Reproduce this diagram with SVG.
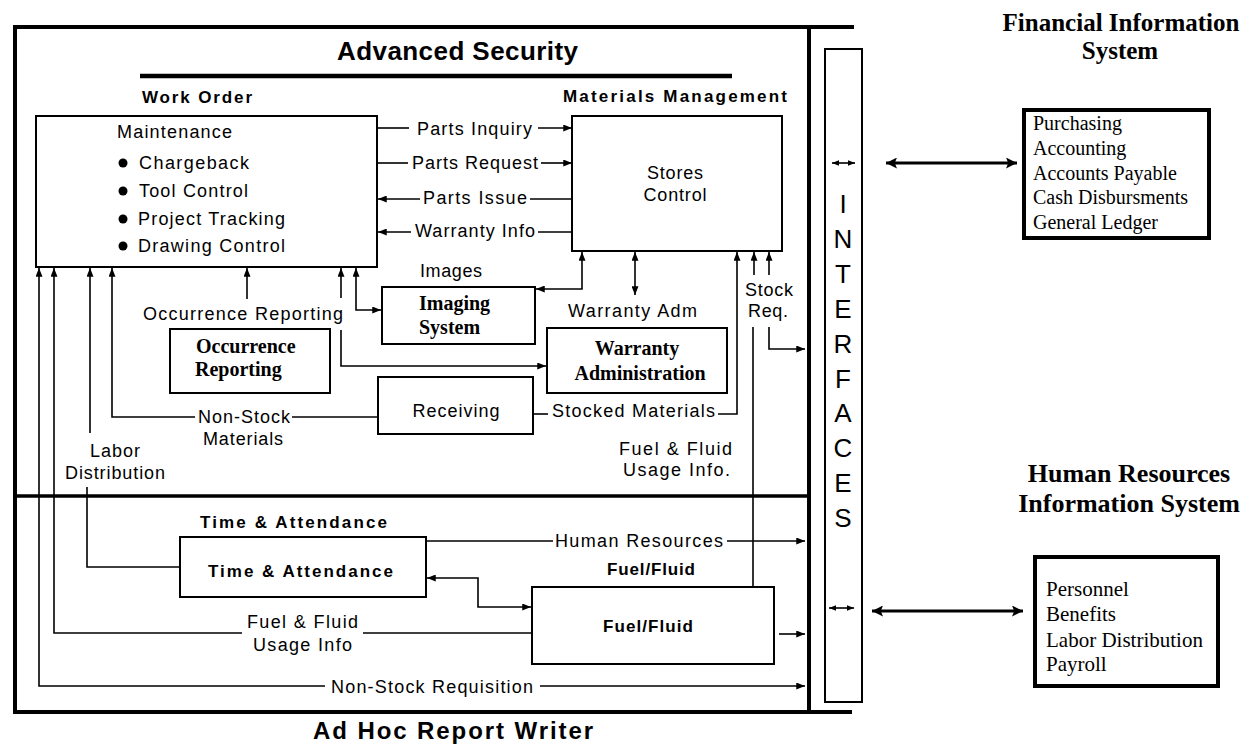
<svg xmlns="http://www.w3.org/2000/svg" width="1256" height="752" viewBox="0 0 1256 752">
<style>
.bg{fill:#fff}
.box{fill:none;stroke:#000;stroke-width:2}
.thick{fill:none;stroke:#000;stroke-width:4}
.frame{fill:none;stroke:#000;stroke-width:4;stroke-linecap:square}
.c{fill:none;stroke:#000;stroke-width:1.6}
.cb{fill:none;stroke:#000;stroke-width:3.2}
.s{font-family:"Liberation Sans",Arial,sans-serif;font-size:18px;fill:#000}
.b{font-family:"Liberation Sans",Arial,sans-serif;font-size:17px;font-weight:bold;fill:#000}
.tb{font-family:"Liberation Serif","Times New Roman",serif;font-size:20px;font-weight:bold;fill:#000}
.tr{font-family:"Liberation Serif","Times New Roman",serif;font-size:20px;fill:#000}
.title{font-family:"Liberation Serif","Times New Roman",serif;font-size:25px;font-weight:bold;fill:#000}
.ifc{font-family:"Liberation Sans",Arial,sans-serif;font-size:26px;fill:#000}
</style>
<defs>
<marker id="a" viewBox="0 0 10 8" refX="10" refY="4" markerWidth="9" markerHeight="7" markerUnits="userSpaceOnUse" orient="auto-start-reverse"><path d="M0,0 L10,4 L0,8 z" fill="#000"/></marker>
<marker id="sm" viewBox="0 0 10 8" refX="10" refY="4" markerWidth="7" markerHeight="6" markerUnits="userSpaceOnUse" orient="auto-start-reverse"><path d="M0,0 L10,4 L0,8 z" fill="#000"/></marker>
<marker id="big" viewBox="0 0 10 10" refX="10" refY="5" markerWidth="12" markerHeight="11" markerUnits="userSpaceOnUse" orient="auto-start-reverse"><path d="M0,0 L10,5 L0,10 L2,5 z" fill="#000"/></marker>
</defs>
<rect class="bg" x="0" y="0" width="1256" height="752"/>

<g id="frame">
<path class="frame" d="M15,712 L15,27 L852,27"/>
<path class="frame" d="M809,27 L809,712"/>
<path class="frame" d="M15,712 L850,712"/>
<line x1="15" y1="496" x2="809" y2="496" stroke="#000" stroke-width="3.5"/>
<text x="337" y="60" style="font-family:'Liberation Sans',Arial,sans-serif;font-size:26px;font-weight:bold" textLength="241" lengthAdjust="spacing">Advanced Security</text>
<line x1="140" y1="76" x2="732" y2="76" stroke="#000" stroke-width="4.5"/>
<text x="313" y="739" style="font-family:'Liberation Sans',Arial,sans-serif;font-size:24px;font-weight:bold" textLength="280" lengthAdjust="spacing">Ad Hoc Report Writer</text>
</g>

<g id="maintenance">
<text class="b" x="142" y="103" textLength="110" lengthAdjust="spacing">Work Order</text>
<rect class="box" x="36" y="116" width="341" height="151"/>
<text class="s" x="117" y="138" textLength="115" lengthAdjust="spacing">Maintenance</text>
<circle cx="123" cy="163" r="4.5"/><circle cx="123" cy="191" r="4.5"/><circle cx="123" cy="219" r="4.5"/><circle cx="123" cy="246" r="4.5"/>
<text class="s" x="139" y="169" textLength="110" lengthAdjust="spacing">Chargeback</text>
<text class="s" x="139" y="197" textLength="109" lengthAdjust="spacing">Tool Control</text>
<text class="s" x="138" y="225" textLength="147" lengthAdjust="spacing">Project Tracking</text>
<text class="s" x="138" y="252" textLength="147" lengthAdjust="spacing">Drawing Control</text>
</g>

<g id="stores">
<text class="b" x="563" y="102" textLength="224" lengthAdjust="spacing">Materials Management</text>
<rect class="box" x="572" y="116" width="210" height="135"/>
<text class="s" x="675" y="179" text-anchor="middle" textLength="56" lengthAdjust="spacing">Stores</text>
<text class="s" x="675" y="201" text-anchor="middle" textLength="63" lengthAdjust="spacing">Control</text>
</g>

<g id="imaging">
<rect class="box" x="382" y="287" width="153" height="57"/>
<text class="tb" x="419" y="310">Imaging</text>
<text class="tb" x="419" y="334">System</text>
</g>

<g id="occurrence">
<rect class="box" x="170" y="329" width="160" height="64"/>
<text class="tb" x="196" y="353">Occurrence</text>
<text class="tb" x="195" y="376">Reporting</text>
</g>

<g id="warranty">
<rect class="box" x="547" y="328" width="180" height="65"/>
<text class="tb" x="637" y="355" text-anchor="middle">Warranty</text>
<text class="tb" x="640" y="380" text-anchor="middle">Administration</text>
</g>

<g id="receiving">
<rect class="box" x="378" y="377" width="155" height="57"/>
<text class="s" x="456" y="417" text-anchor="middle" textLength="87" lengthAdjust="spacing">Receiving</text>
</g>

<g id="timeatt">
<text class="b" x="200" y="528" textLength="187" lengthAdjust="spacing">Time &amp; Attendance</text>
<rect class="box" x="180" y="537" width="246" height="60"/>
<text class="b" x="208" y="577" textLength="185" lengthAdjust="spacing">Time &amp; Attendance</text>
</g>

<g id="fuel">
<text class="b" x="607" y="575" textLength="88" lengthAdjust="spacing">Fuel/Fluid</text>
<rect class="box" x="532" y="587" width="242" height="77"/>
<text class="b" x="603" y="632" textLength="90" lengthAdjust="spacing">Fuel/Fluid</text>
</g>

<g id="interfaces">
<rect class="box" x="825" y="49" width="37" height="653"/>
<g class="ifc" text-anchor="middle">
<text x="843" y="213">I</text>
<text x="843" y="248">N</text>
<text x="843" y="283">T</text>
<text x="843" y="318">E</text>
<text x="843" y="353">R</text>
<text x="843" y="388">F</text>
<text x="843" y="422">A</text>
<text x="843" y="457">C</text>
<text x="843" y="492">E</text>
<text x="843" y="527">S</text>
</g>
</g>

<g id="financial">
<text class="title" x="1121" y="31" text-anchor="middle">Financial Information</text>
<text class="title" x="1120" y="59" text-anchor="middle">System</text>
<rect class="thick" x="1024" y="110" width="185" height="128"/>
<text class="tr" x="1033" y="130">Purchasing</text>
<text class="tr" x="1033" y="155">Accounting</text>
<text class="tr" x="1033" y="180">Accounts Payable</text>
<text class="tr" x="1033" y="204">Cash Disbursments</text>
<text class="tr" x="1033" y="229">General Ledger</text>
</g>

<g id="hr">
<text class="title" x="1129" y="482" text-anchor="middle" style="font-size:26px">Human Resources</text>
<text class="title" x="1129" y="512" text-anchor="middle" style="font-size:26px">Information System</text>
<rect class="thick" x="1035" y="557" width="183" height="129"/>
<text class="tr" x="1046" y="596" style="font-size:21px">Personnel</text>
<text class="tr" x="1046" y="621" style="font-size:21px">Benefits</text>
<text class="tr" x="1046" y="647" style="font-size:21px">Labor Distribution</text>
<text class="tr" x="1046" y="671" style="font-size:21px">Payroll</text>
</g>

<g id="labels">
<text class="s" x="417" y="135" textLength="115" lengthAdjust="spacing">Parts Inquiry</text>
<text class="s" x="412" y="169" textLength="126" lengthAdjust="spacing">Parts Request</text>
<text class="s" x="423" y="204" textLength="104" lengthAdjust="spacing">Parts Issue</text>
<text class="s" x="415" y="237" textLength="120" lengthAdjust="spacing">Warranty Info</text>
<text class="s" x="420" y="277" textLength="62" lengthAdjust="spacing">Images</text>
<text class="s" x="143" y="320" textLength="200" lengthAdjust="spacing">Occurrence Reporting</text>
<text class="s" x="568" y="317" textLength="129" lengthAdjust="spacing">Warranty Adm</text>
<text class="s" x="745" y="296" textLength="48" lengthAdjust="spacing">Stock</text>
<text class="s" x="748" y="317" textLength="40" lengthAdjust="spacing">Req.</text>
<text class="s" x="198" y="423" textLength="92" lengthAdjust="spacing">Non-Stock</text>
<text class="s" x="203" y="445" textLength="80" lengthAdjust="spacing">Materials</text>
<text class="s" x="552" y="417" textLength="163" lengthAdjust="spacing">Stocked Materials</text>
<text class="s" x="90" y="457" textLength="50" lengthAdjust="spacing">Labor</text>
<text class="s" x="65" y="479" textLength="100" lengthAdjust="spacing">Distribution</text>
<text class="s" x="619" y="455" textLength="113" lengthAdjust="spacing">Fuel &amp; Fluid</text>
<text class="s" x="623" y="476" textLength="107" lengthAdjust="spacing">Usage Info.</text>
<text class="s" x="555" y="547" textLength="168" lengthAdjust="spacing">Human Resources</text>
<text class="s" x="247" y="628" textLength="111" lengthAdjust="spacing">Fuel &amp; Fluid</text>
<text class="s" x="253" y="651" textLength="99" lengthAdjust="spacing">Usage Info</text>
<text class="s" x="331" y="693" textLength="202" lengthAdjust="spacing">Non-Stock Requisition</text>
</g>

<g id="connectors">
<path class="c" d="M377,128 L409,128"/>
<path class="c" d="M538,128 L572,128" marker-end="url(#a)"/>
<path class="c" d="M377,163 L408,163"/>
<path class="c" d="M541,163 L572,163" marker-end="url(#a)"/>
<path class="c" d="M572,199 L530,199"/>
<path class="c" d="M420,199 L378,199" marker-end="url(#a)"/>
<path class="c" d="M572,232 L538,232"/>
<path class="c" d="M411,232 L378,232" marker-end="url(#a)"/>
<path class="c" d="M582,252 L582,289 L536,289" marker-start="url(#a)" marker-end="url(#a)"/>
<path class="c" d="M635,252 L635,295" marker-start="url(#a)" marker-end="url(#a)"/>
<path class="c" d="M356,268 L356,310 L381,310" marker-start="url(#a)" marker-end="url(#a)"/>
<path class="c" d="M247,299 L247,268" marker-end="url(#a)"/>
<path class="c" d="M341,298 L341,268" marker-end="url(#a)"/>
<path class="c" d="M341,330 L341,366 L546,366" marker-end="url(#a)"/>
<path class="c" d="M378,417 L292,417"/>
<path class="c" d="M195,417 L112,417 L112,268" marker-end="url(#a)"/>
<path class="c" d="M90,433 L90,268" marker-end="url(#a)"/>
<path class="c" d="M87,487 L87,567 L180,567"/>
<path class="c" d="M532,633 L363,633"/>
<path class="c" d="M242,633 L54,633 L54,268" marker-end="url(#a)"/>
<path class="c" d="M325,686 L39,686 L39,268" marker-end="url(#a)"/>
<path class="c" d="M540,686 L805,686" marker-end="url(#a)"/>
<path class="c" d="M426,541 L553,541"/>
<path class="c" d="M727,541 L805,541" marker-end="url(#a)"/>
<path class="c" d="M427,578 L478,578 L478,607 L531,607" marker-start="url(#a)" marker-end="url(#a)"/>
<path class="c" d="M779,634 L805,634" marker-end="url(#a)"/>
<path class="c" d="M753,587 L753,327"/>
<path class="c" d="M754,275 L754,252" marker-end="url(#a)"/>
<path class="c" d="M769,275 L769,252" marker-end="url(#a)"/>
<path class="c" d="M769,327 L769,349 L805,349" marker-end="url(#a)"/>
<path class="c" d="M533,414 L548,414"/>
<path class="c" d="M718,414 L737,414 L737,252" marker-end="url(#a)"/>
<path class="c" d="M832,163 L855,163" marker-start="url(#sm)" marker-end="url(#sm)"/>
<path class="c" d="M829,608 L854,608" marker-start="url(#sm)" marker-end="url(#sm)"/>
<path class="cb" d="M886,163 L1017,163" marker-start="url(#big)" marker-end="url(#big)"/>
<path class="cb" d="M872,611 L1023,611" marker-start="url(#big)" marker-end="url(#big)"/>
</g>
</svg>
